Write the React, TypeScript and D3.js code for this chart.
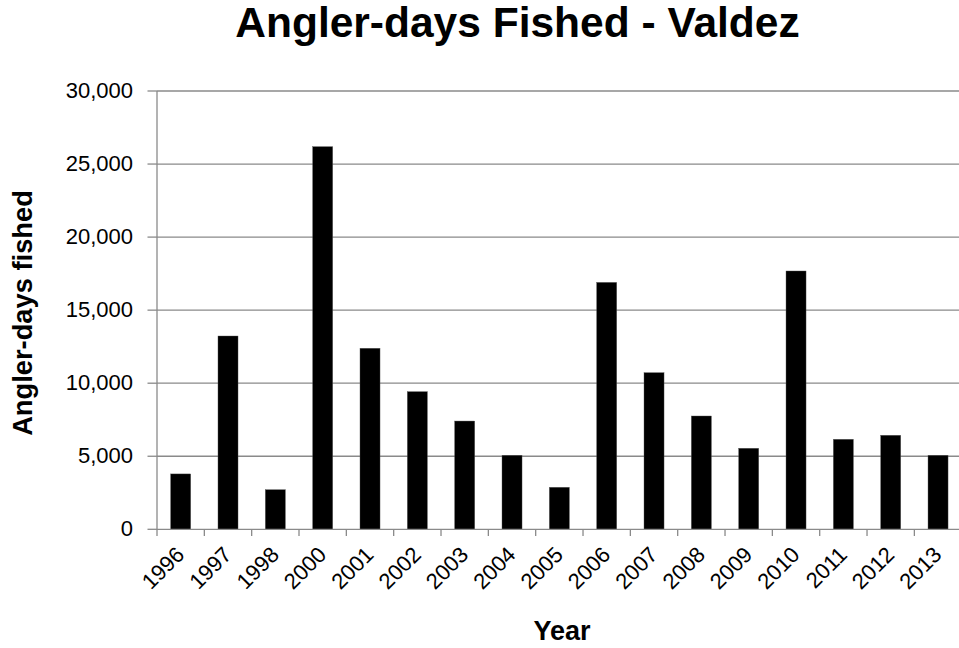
import React from "react";
import * as d3 from "d3";

const years: string[] = ["1996","1997","1998","2000","2001","2002","2003","2004","2005","2006","2007","2008","2009","2010","2011","2012","2013"];
const anglerDays: number[] = [3790,13230,2710,26190,12390,9420,7410,5065,2875,16900,10720,7755,5545,17680,6160,6435,5065];
const yTicks: number[] = [0,5000,10000,15000,20000,25000,30000];

const W = 959, H = 648;
const left = 157, right = 961.7, top = 91, bottom = 529.3;
const FONT = "'Liberation Sans', Arial, Helvetica, sans-serif";
const GRID = "#8a8a8a";

export default function App() {
  const x = d3.scaleBand<string>().domain(years).range([left, right]).paddingInner(0.577).paddingOuter(0.2885);
  const y = d3.scaleLinear().domain([0, 30000]).range([bottom, top]);
  const step = x.step();
  const fmt = d3.format(",");
  const boundaries = d3.range(years.length + 1).map(i => left + i * step);

  return (
    <svg width={W} height={H} style={{ position: "absolute", left: 0, top: 0, background: "#fff" }} fontFamily={FONT}>
      <rect x={0} y={0} width={W} height={H} fill="#fff" />
      <text x={517.5} y={37} textAnchor="middle" fontSize={42.5} fontWeight="bold" fill="#000">Angler-days Fished - Valdez</text>
      {yTicks.map(t => (
        <g key={t}>
          {t > 0 && <line x1={left} x2={W} y1={y(t)} y2={y(t)} stroke={GRID} strokeWidth={1.3} />}
          <line x1={147.5} x2={left} y1={y(t)} y2={y(t)} stroke={GRID} strokeWidth={1.3} />
          <text x={133} y={y(t) + 6.5} textAnchor="end" fontSize={22} fill="#000">{fmt(t)}</text>
        </g>
      ))}
      {years.map((yr, i) => (
        <rect key={yr} x={x(yr)} y={y(anglerDays[i])} width={x.bandwidth()} height={bottom - y(anglerDays[i])} fill="#000" stroke="#555" strokeWidth={0.4} />
      ))}
      <line x1={left} x2={left} y1={top} y2={bottom} stroke={GRID} strokeWidth={1.3} />
      <line x1={left} x2={W} y1={bottom} y2={bottom} stroke={GRID} strokeWidth={1.3} />
      {boundaries.map((b, i) => (
        <line key={i} x1={b} x2={b} y1={bottom} y2={536} stroke={GRID} strokeWidth={1.3} />
      ))}
      {years.map(yr => {
        const cx = (x(yr) as number) + x.bandwidth() / 2;
        return (
          <text key={yr} transform={`translate(${cx + 5},${556}) rotate(-45)`} textAnchor="end" fontSize={22} fill="#000">{yr}</text>
        );
      })}
      <text transform={`translate(32,313) rotate(-90)`} textAnchor="middle" fontSize={27.3} fontWeight="bold" fill="#000">Angler-days fished</text>
      <text x={562} y={640} textAnchor="middle" fontSize={27} fontWeight="bold" fill="#000">Year</text>
    </svg>
  );
}
